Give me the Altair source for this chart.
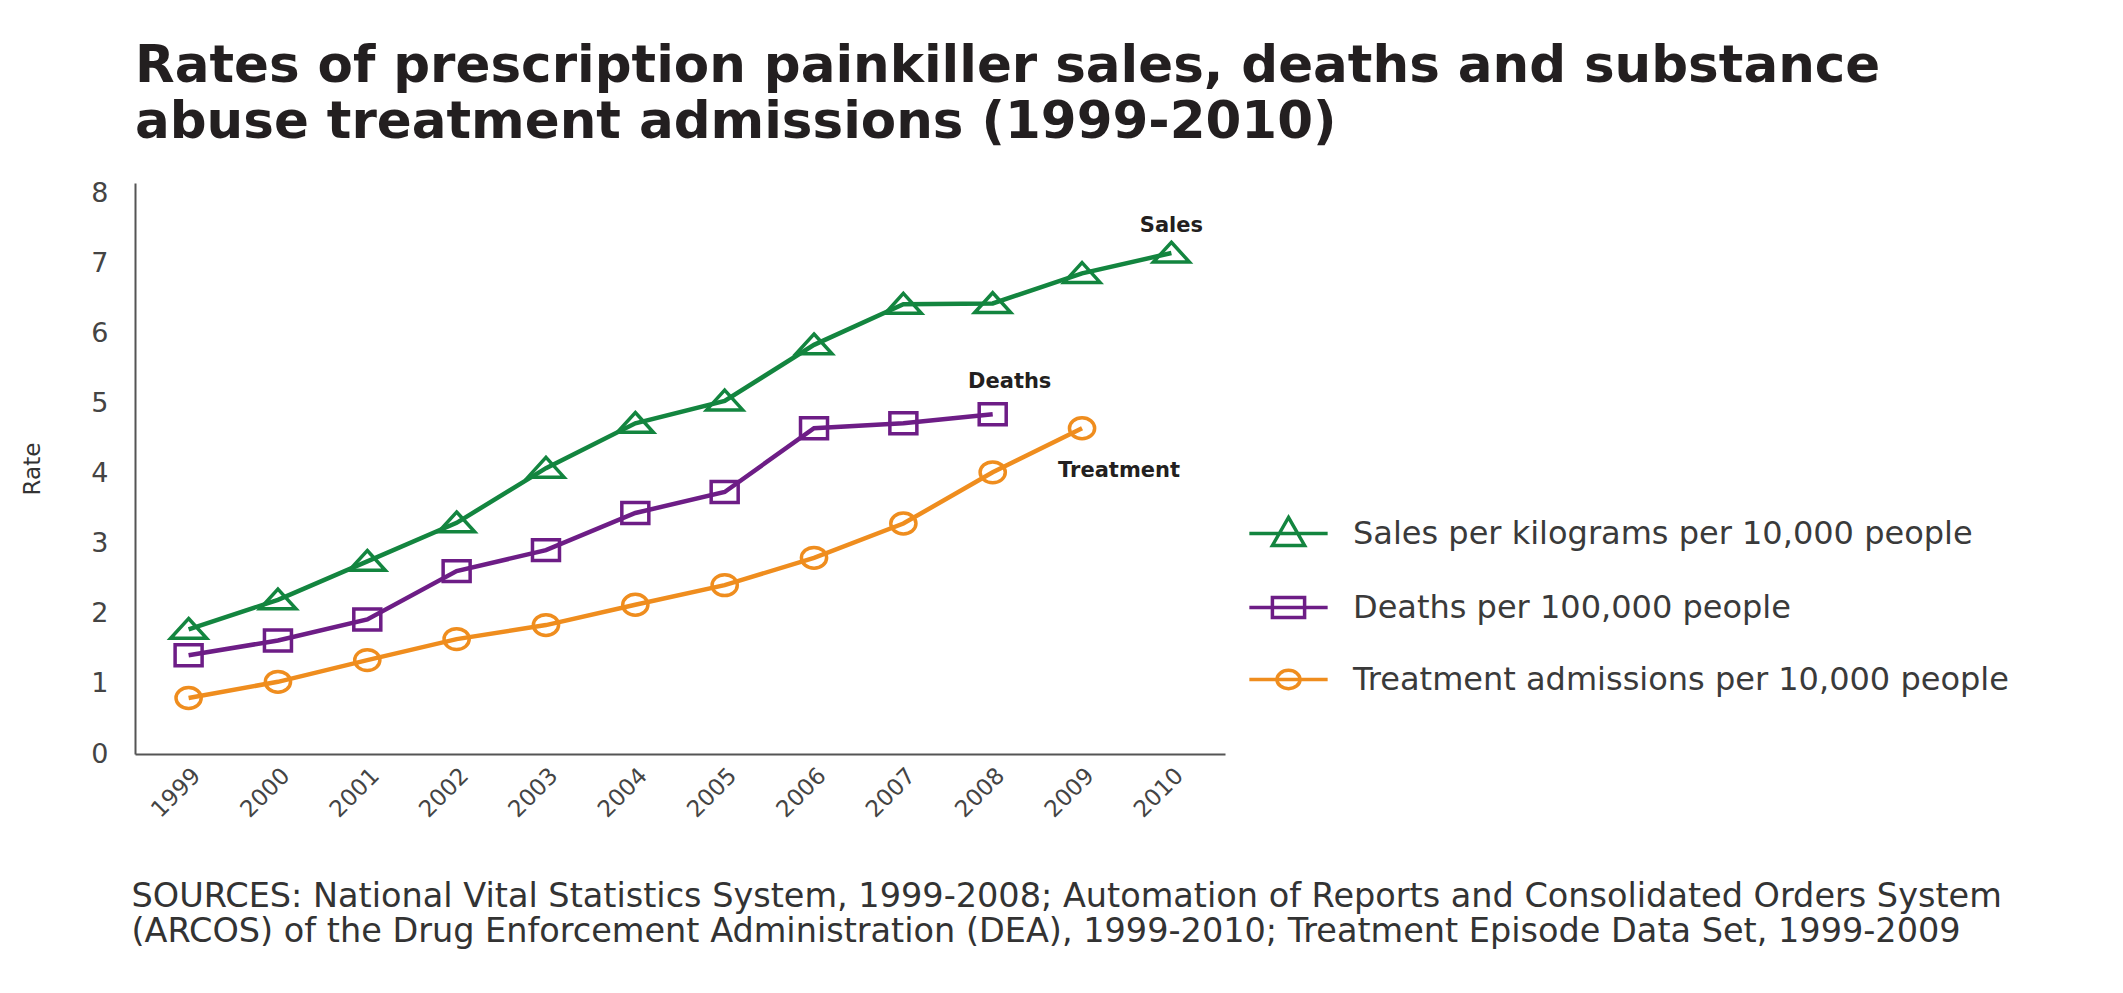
import altair as alt
import pandas as pd

years = list(range(1999, 2011))
sales = [1.78, 2.20, 2.75, 3.30, 4.08, 4.72, 5.04, 5.84, 6.42, 6.43, 6.86, 7.15]
deaths = [1.41, 1.62, 1.92, 2.61, 2.91, 3.44, 3.74, 4.65, 4.72, 4.85]
treatment = [0.80, 1.03, 1.34, 1.64, 1.84, 2.13, 2.41, 2.80, 3.29, 4.02, 4.65]

series_names = [
    "Sales per kilograms per 10,000 people",
    "Deaths per 100,000 people",
    "Treatment admissions per 10,000 people",
]
short_labels = ["Sales", "Deaths", "Treatment"]
colors = ["#13853f", "#6d1d86", "#ef8d1e"]
y_ticks = list(range(0, 9))

title_lines = [
    "Rates of prescription painkiller sales, deaths and substance",
    "abuse treatment admissions (1999-2010)",
]
source_lines = [
    "SOURCES: National Vital Statistics System, 1999-2008; Automation of Reports and Consolidated Orders System",
    "(ARCOS) of the Drug Enforcement Administration (DEA), 1999-2010; Treatment Episode Data Set, 1999-2009",
]

rows = []
for name, vals in zip(series_names, [sales, deaths, treatment]):
    for yr, v in zip(years, vals):
        rows.append({"year": yr, "value": v, "series": name})
df = pd.DataFrame(rows)

FONT = "DejaVu Sans"
TEXT = "#231f20"

# marker shapes (custom paths, slightly wide like the original)
tri = "M0,-0.6L1,0.5L-1,0.5Z"
sq = "M-0.75,-0.58H0.75V0.58H-0.75Z"
circ = "M-0.7,0A0.7,0.58,0,1,0,0.7,0A0.7,0.58,0,1,0,-0.7,0Z"
marker_paths = [tri, sq, circ]

# legend symbols: line with marker
lg_tri = "M-1.8,0H1.8M0,-0.74L0.74,0.55L-0.74,0.55Z"
lg_sq = "M-1.8,0H1.8M-0.74,-0.46H0.74V0.46H-0.74Z"
lg_circ = "M-1.8,0H1.8M-0.53,0A0.53,0.42,0,1,0,0.53,0A0.53,0.42,0,1,0,-0.53,0Z"
sym_expr = (
    f"datum.value == '{series_names[0]}' ? '{lg_tri}' : "
    f"datum.value == '{series_names[1]}' ? '{lg_sq}' : '{lg_circ}'"
)

x_enc = alt.X(
    "year:Q",
    scale=alt.Scale(domain=[1998.4, 2010.6], nice=False, zero=False),
    axis=alt.Axis(
        values=years,
        format="d",
        labelAngle=-45,
        labelFontSize=23,
        labelColor="#444444",
        labelFont=FONT,
        labelPadding=10,
        ticks=False,
        grid=False,
        domainColor="#555555",
        domainWidth=2,
        title=source_lines,
        titleFont=FONT,
        titleFontSize=33.5,
        titleFontWeight="normal",
        titleColor="#333333",
        titleAlign="left",
        titleBaseline="top",
        titleAnchor="start",
        titleX=-4,
        titleY=126,
        titleLineHeight=35,
    ),
)
y_enc = alt.Y(
    "value:Q",
    scale=alt.Scale(domain=[0, 8.15], nice=False),
    axis=alt.Axis(
        values=y_ticks,
        format="d",
        labelFontSize=27,
        labelColor="#444444",
        labelFont=FONT,
        labelPadding=27,
        ticks=False,
        grid=False,
        domainColor="#555555",
        domainWidth=2,
        title="Rate",
        titleFont=FONT,
        titleFontSize=23,
        titleFontWeight="normal",
        titleColor="#333333",
        titlePadding=46,
    ),
)
color_scale = alt.Scale(domain=series_names, range=colors)

lines = alt.Chart(df).mark_line(strokeWidth=4.5).encode(
    x=x_enc,
    y=y_enc,
    color=alt.Color(
        "series:N",
        scale=color_scale,
        sort=series_names,
        legend=alt.Legend(
            title=None,
            orient="none",
            legendX=1130,
            legendY=327,
            padding=0,
            symbolType={"expr": sym_expr},
            symbolSize=1892,
            symbolStrokeWidth=3.5,
            symbolFillColor="transparent",
            labelFont=FONT,
            labelFontSize=32,
            labelColor="#3a3a3a",
            labelOffset=41,
            labelLimit=900,
            rowPadding=31,
        ),
    ),
    detail="series:N",
)

point_layers = []
for name, path in zip(series_names, marker_paths):
    point_layers.append(
        alt.Chart(df)
        .transform_filter(alt.datum.series == name)
        .mark_point(filled=False, strokeWidth=3.5, size=1296, opacity=1, shape=path)
        .encode(
            x="year:Q",
            y="value:Q",
            color=alt.Color("series:N", scale=color_scale, legend=None),
        )
    )

def annotation(idx, vals, dx, dy):
    d = pd.DataFrame({"year": [years[len(vals) - 1]], "value": [vals[-1]], "label": [short_labels[idx]]})
    return alt.Chart(d).mark_text(
        font=FONT, fontSize=21, fontWeight="bold", color=TEXT, dx=dx, dy=dy
    ).encode(x="year:Q", y="value:Q", text="label:N")

ann_sales = annotation(0, sales, 0, -27)
ann_deaths = annotation(1, deaths, 17, -32)
ann_treat = annotation(2, treatment, 37, 43)

chart = (
    alt.layer(lines, *point_layers, ann_sales, ann_deaths, ann_treat)
    .properties(
        width=1090,
        height=571,
        autosize=alt.AutoSizeParams(type="none"),
        padding={"left": 127, "top": 175, "right": 880, "bottom": 215},
        background="white",
        title=alt.TitleParams(
            text=title_lines,
            anchor="start",
            frame="group",
            font=FONT,
            fontSize=51.5,
            fontWeight="bold",
            color=TEXT,
            lineHeight=56,
            offset=31,
        ),
    )
    .configure_view(stroke=None)
)

chart.save("out.html", embed_options={"renderer": "svg", "actions": False})
